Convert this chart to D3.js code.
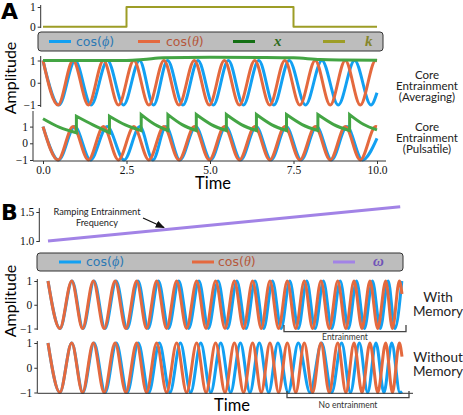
<!DOCTYPE html>
<html>
<head>
<meta charset="utf-8">
<script src="https://cdn.jsdelivr.net/npm/d3@7"></script>
<style>
body { margin: 0; background: #fff; }
svg { display: block; }
</style>
</head>
<body>
<svg id="fig" width="463" height="415"></svg>
<script>
// ---------- panel A data (time 0..10) ----------
var kTimes = [0, 2.5, 7.5, 10];
var kValues = [0, 1, 0, 0];

// times of alternating extrema (+1, -1, +1 ...)
var thetaA = [0, 0.45, 0.9, 1.36, 1.81, 2.26, 2.72, 3.17, 3.62, 4.07, 4.53, 4.98, 5.43, 5.88, 6.34, 6.79, 7.24, 7.69, 8.15, 8.6, 9.05, 9.5, 9.96];
var thetaAEnd = [10, 0.99];
var phiAvg = [0, 0.48, 0.96, 1.44, 1.93, 2.41, 2.89, 3.31, 3.73, 4.19, 4.64, 5.1, 5.55, 6.0, 6.46, 6.91, 7.37, 7.86, 8.35, 8.84, 9.33, 9.82];
var phiAvgEnd = [10, -0.45];
var xAvgT = [0, 2.5, 3, 3.6, 5, 6.5, 7.5, 8.3, 9, 10];
var xAvgV = [1.0, 1.0, 1.04, 1.12, 1.15, 1.14, 1.12, 1.04, 1.02, 1.01];

var phiPulse = [0, 0.47, 0.95, 1.42, 1.92, 2.43, 2.9, 3.29, 3.68, 4.1, 4.57, 5.02, 5.47, 5.92, 6.38, 6.83, 7.28, 7.73, 8.19, 8.64, 9.1, 9.56];
var phiPulseEnd = [10, 0.3];
var pulseTimes = [0, 1.0, 1.99, 2.94, 3.74, 4.59, 5.49, 6.39, 7.29, 8.23, 9.18, 10];
var pulseTop = [1.47, 1.62, 1.62, 1.72, 1.72, 1.72, 1.72, 1.72, 1.72, 1.72, 1.72];
var pulseMid = [0.95, 1.1, 1.1, 1.14, 1.12, 1.12, 1.12, 1.12, 1.12, 1.12, 1.14];
var pulseLow = [0.63, 0.63, 0.76, 0.76, 0.76, 0.76, 0.76, 0.76, 0.76, 0.76, 0.8];

// ---------- panel B data (time 0..20) ----------
var omegaT = [0, 19.9];
var omegaV = [1.0, 1.59];
var thetaB = [0, 0.67, 1.34, 1.95, 2.56, 3.17, 3.79, 4.40, 5.01, 5.57, 6.14, 6.70, 7.27, 7.83, 8.40, 8.93, 9.47, 10.00, 10.53, 11.05, 11.56, 12.05, 12.54, 13.03, 13.52, 14.00, 14.48, 14.95, 15.42, 15.89, 16.37, 16.83, 17.29, 17.74, 18.19, 18.63, 19.08, 19.46, 19.85];
var thetaBEnd = [20, 0.45];
var phiMem = [0, 0.68, 1.36, 1.98, 2.60, 3.22, 3.85, 4.47, 5.09, 5.66, 6.24, 6.81, 7.39, 7.95, 8.53, 9.06, 9.61, 10.14, 10.67, 11.19, 11.70, 12.19, 12.68, 13.17, 13.66, 14.14, 14.62, 15.09, 15.56, 16.03, 16.51, 16.97, 17.43, 17.88, 18.33, 18.77, 19.22, 19.60, 19.99];
var phiNoMem = [0, 0.67, 1.34, 1.97, 2.60, 3.23, 3.86, 4.48, 5.10, 5.70, 6.29, 6.89, 7.48, 8.06, 8.63, 9.20, 9.76, 10.32, 10.87, 11.41, 11.94, 12.47, 12.99, 13.57, 14.14, 14.80, 15.46, 16.03, 16.59, 17.09, 17.59, 18.06, 18.53, 18.98, 19.42, 19.88];
var phiNoMemEnd = [20, -0.95];

var timeTicksA = [0, 2.5, 5, 7.5, 10];

// ---------- colours ----------
var cBlue = "#12a0f2", cOrange = "#e4693e", cGreen = "#44a544", cOlive = "#9d9d26", cPurple = "#a283e6";

var svg = d3.select("#fig");
var serif = "'Liberation Serif', 'DejaVu Serif', serif";
var sans = "Lato, 'DejaVu Sans', sans-serif";

var xA = d3.scaleLinear().domain([0, 10]).range([43, 377]);
var yK = d3.scaleLinear().domain([0, 1]).range([26.7, 7]);
var yA1 = d3.scaleLinear().domain([-1, 1]).range([105, 60.5]);
var yA2 = d3.scaleLinear().domain([-1, 1]).range([160, 126.6]);
var xB = d3.scaleLinear().domain([0, 20]).range([48, 402]);
var yW = d3.scaleLinear().domain([1, 1.5]).range([241, 212]);
var yB1 = d3.scaleLinear().domain([-1, 1]).range([328.5, 281]);
var yB2 = d3.scaleLinear().domain([-1, 1]).range([392.5, 343]);

function extrema(times, end) {
    var pts = times.map(function(t, i) { return [t, i % 2 ? -1 : 1]; });
    if (end) pts.push(end);
    return pts;
}

function drawLine(pts, x, y, color, w, curve) {
    var line = d3.line()
        .x(function(d) { return x(d[0]); })
        .y(function(d) { return y(d[1]); })
        .curve(curve || d3.curveMonotoneX);
    svg.append("path")
        .attr("d", line(pts))
        .attr("fill", "none")
        .attr("stroke", color)
        .attr("stroke-width", w)
        .attr("stroke-linejoin", "round")
        .attr("stroke-linecap", "butt");
}

function minus(d) { return String(d).replace("-", "\u2212"); }

function yAxis(scale, xpos, ticks, fmt, y0, y1) {
    var g = svg.append("g")
        .attr("transform", "translate(" + xpos + ",0)")
        .call(d3.axisLeft(scale).tickValues(ticks).tickSize(3).tickPadding(2)
            .tickFormat(fmt || minus));
    g.select(".domain").remove();
    g.selectAll("text").style("font-family", serif).style("font-size", "11.5px").attr("fill", "#111");
    g.selectAll("line").attr("stroke", "#333");
    svg.append("line").attr("x1", xpos).attr("x2", xpos).attr("y1", y0).attr("y2", y1)
        .attr("stroke", "#333").attr("stroke-width", 1);
}

// ---------- panel A ----------
svg.append("text").attr("x", 1).attr("y", 19).text("A")
    .style("font-family", "'DejaVu Sans', sans-serif").style("font-weight", "bold").style("font-size", "22px");

// k
yAxis(yK, 40.7, [0, 1], null, 5, 28);
drawLine(kTimes.map(function(t, i) { return [t, kValues[i]]; }), xA, yK, cOlive, 2, d3.curveStepAfter);

// legend A
function legend(x0, x1, y0, y1, items) {
    svg.append("rect").attr("x", x0).attr("y", y0).attr("width", x1 - x0).attr("height", y1 - y0)
        .attr("rx", 3).attr("fill", "#bdbdbd").attr("stroke", "#333").attr("stroke-width", 1);
    var cy = (y0 + y1) / 2;
    items.forEach(function(it) {
        svg.append("line").attr("x1", it.sx).attr("x2", it.sx + 22).attr("y1", cy).attr("y2", cy)
            .attr("stroke", it.swatch).attr("stroke-width", 3);
        var t = svg.append("text").attr("x", it.tx).attr("y", cy + 4)
            .attr("fill", it.text).style("font-size", "12.5px");
        if (it.fn) {
            t.style("font-family", "'DejaVu Sans', sans-serif");
            t.append("tspan").text("cos(");
            t.append("tspan").text(it.sym).style("font-family", serif).style("font-style", "italic").style("font-size", "14px");
            t.append("tspan").text(")");
        } else {
            t.text(it.sym).style("font-family", serif).style("font-style", "italic").style("font-weight", "bold").style("font-size", "15px");
        }
    });
}
legend(38, 383, 32, 51, [
    {sx: 49, tx: 76, swatch: cBlue, text: "#2a78b4", fn: true, sym: "\u03d5"},
    {sx: 138, tx: 166, swatch: cOrange, text: "#b5573a", fn: true, sym: "\u03b8"},
    {sx: 233, tx: 274, swatch: "#136f13", text: "#2f6a1c", fn: false, sym: "x"},
    {sx: 323, tx: 365, swatch: cOlive, text: "#85852a", fn: false, sym: "k"}
]);

// averaging
yAxis(yA1, 40.7, [-1, 0, 1], null, 56, 107);
drawLine(extrema(phiAvg, phiAvgEnd), xA, yA1, cBlue, 3);
drawLine(extrema(thetaA, thetaAEnd), xA, yA1, cOrange, 3);
drawLine(xAvgT.map(function(t, i) { return [t, xAvgV[i]]; }), xA, yA1, cGreen, 3);

// pulsatile
yAxis(yA2, 33, [-1, 0, 1], null, 111, 161);
drawLine(extrema(phiPulse, phiPulseEnd), xA, yA2, cBlue, 3);
drawLine(extrema(thetaA, thetaAEnd), xA, yA2, cOrange, 3);
(function() {
    var line = d3.line().x(function(d) { return xA(d[0]); }).y(function(d) { return yA2(d[1]); })
        .curve(d3.curveMonotoneX);
    var d = "";
    for (var i = 0; i < pulseTop.length; i++) {
        var t0 = pulseTimes[i], t1 = pulseTimes[i + 1];
        var seg = line([[t0, pulseTop[i]], [(t0 + t1) / 2, pulseMid[i]], [t1, pulseLow[i]]]);
        d += i === 0 ? seg : "L" + seg.slice(1);
    }
    svg.append("path").attr("d", d).attr("fill", "none").attr("stroke", cGreen)
        .attr("stroke-width", 3).attr("stroke-linejoin", "miter");
})();

var gx = svg.append("g").attr("transform", "translate(0,161)")
    .call(d3.axisBottom(xA).tickValues(timeTicksA).tickSize(3).tickPadding(2).tickFormat(d3.format(".1f")));
gx.select(".domain").remove();
gx.selectAll("text").style("font-family", serif).style("font-size", "11.5px").attr("fill", "#111");
gx.selectAll("line").attr("stroke", "#333");
svg.append("line").attr("x1", 33).attr("x2", 386).attr("y1", 161).attr("y2", 161).attr("stroke", "#333");

svg.append("text").attr("x", 213).attr("y", 189).attr("text-anchor", "middle").text("Time")
    .style("font-family", sans).style("font-size", "16.5px");
svg.append("text").attr("transform", "translate(16,78) rotate(-90)").attr("text-anchor", "middle")
    .text("Amplitude").style("font-family", sans).style("font-size", "16px");

function sideLabel(x, y, lines, size, gap) {
    var t = svg.append("text").attr("text-anchor", "middle").style("font-family", sans)
        .style("font-size", size + "px").attr("fill", "#222");
    lines.forEach(function(s, i) {
        t.append("tspan").attr("x", x).attr("y", y + i * gap).text(s);
    });
}
sideLabel(427, 79, ["Core", "Entrainment", "(Averaging)"], 11.5, 11);
sideLabel(427, 131, ["Core", "Entrainment", "(Pulsatile)"], 11.5, 11);

// ---------- panel B ----------
svg.append("text").attr("x", 1).attr("y", 220).text("B")
    .style("font-family", "'DejaVu Sans', sans-serif").style("font-weight", "bold").style("font-size", "22px");

yAxis(yW, 39.3, [1, 1.5], d3.format(".1f"), 208, 242);
drawLine(omegaT.map(function(t, i) { return [t, omegaV[i]]; }), xB, yW, cPurple, 3, d3.curveLinear);

svg.append("defs").append("marker").attr("id", "arr").attr("viewBox", "0 0 10 10")
    .attr("refX", 9).attr("refY", 5).attr("markerWidth", 7).attr("markerHeight", 7)
    .attr("orient", "auto").append("path").attr("d", "M0,1 L10,5 L0,9 z").attr("fill", "#111");
svg.append("line").attr("x1", 143).attr("y1", 218).attr("x2", 164).attr("y2", 227.5)
    .attr("stroke", "#111").attr("stroke-width", 1.3).attr("marker-end", "url(#arr)");
sideLabel(97, 215, ["Ramping Entrainment", "Frequency"], 9.2, 10.5);

legend(37, 403, 253, 271, [
    {sx: 59, tx: 86, swatch: cBlue, text: "#2a78b4", fn: true, sym: "\u03d5"},
    {sx: 192, tx: 218, swatch: cOrange, text: "#b5573a", fn: true, sym: "\u03b8"},
    {sx: 333, tx: 373, swatch: cPurple, text: "#7052b8", fn: false, sym: "\u03c9"}
]);

// with memory
yAxis(yB1, 37.3, [-1, 0, 1], null, 279, 330);
drawLine(extrema(phiMem), xB, yB1, cBlue, 3);
drawLine(extrema(thetaB, thetaBEnd), xB, yB1, cOrange, 3);

// without memory
yAxis(yB2, 37.3, [-1, 0, 1], null, 341, 393);
drawLine(extrema(phiNoMem, phiNoMemEnd), xB, yB2, cBlue, 3);
drawLine(extrema(thetaB, thetaBEnd), xB, yB2, cOrange, 3);
svg.append("line").attr("x1", 37.3).attr("x2", 413).attr("y1", 393.3).attr("y2", 393.3).attr("stroke", "#333");

// brackets
function bracket(x0, x1, yLine, yTop, label, ty) {
    svg.append("path").attr("d", "M" + x0 + "," + yTop + "V" + yLine + "H" + x1 + "V" + yTop)
        .attr("fill", "none").attr("stroke", "#444").attr("stroke-width", 1.3);
    svg.append("text").attr("x", (x0 + x1) / 2).attr("y", ty).attr("text-anchor", "middle")
        .text(label).style("font-family", sans).style("font-size", "8.5px").attr("fill", "#333");
}
bracket(284, 406, 331.7, 325, "Entrainment", 340);
bracket(287, 409, 397.7, 391, "No entrainment", 408);

svg.append("text").attr("x", 232).attr("y", 411).attr("text-anchor", "middle").text("Time")
    .style("font-family", sans).style("font-size", "16.5px");
svg.append("text").attr("transform", "translate(16,301) rotate(-90)").attr("text-anchor", "middle")
    .text("Amplitude").style("font-family", sans).style("font-size", "16px");

sideLabel(438, 302, ["With", "Memory"], 13.5, 14);
sideLabel(438, 362, ["Without", "Memory"], 13.5, 14);
</script>
</body>
</html>
